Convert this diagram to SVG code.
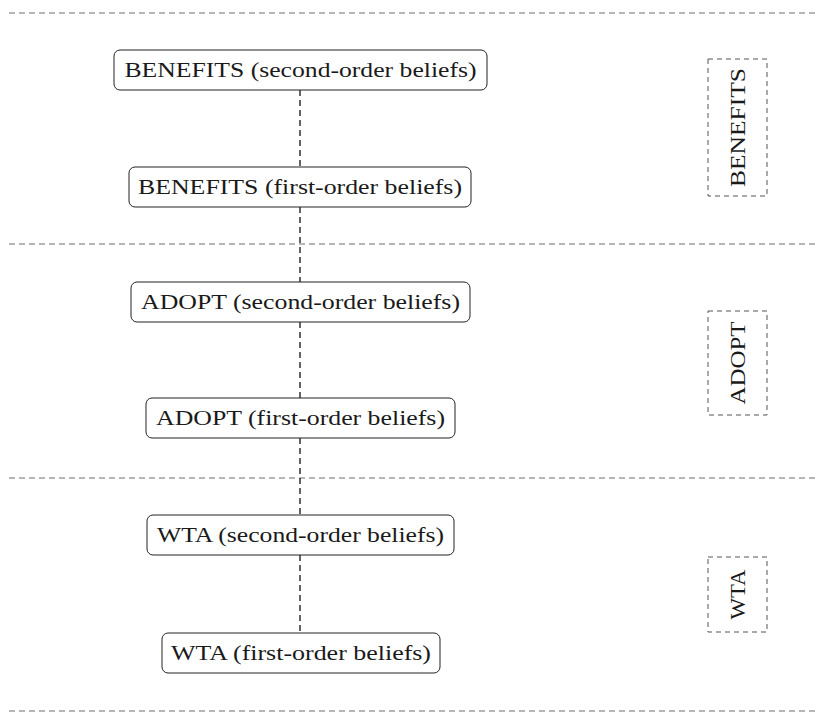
<svg xmlns="http://www.w3.org/2000/svg" width="817" height="713" viewBox="0 0 817 713">
<style>
.sep{stroke:#6e6e6e;stroke-width:1.2;stroke-dasharray:6,4;fill:none}
.node rect{fill:#fff;stroke:#222;stroke-width:1}
.lbl{font-family:"Liberation Serif","Times New Roman",serif;font-size:21.5px;fill:#1a1a1a;text-anchor:middle;dominant-baseline:central}
.side rect{fill:none;stroke:#555;stroke-width:1;stroke-dasharray:5,4}
.conn{stroke:#111;stroke-width:1.3;stroke-dasharray:6,4;fill:none}
</style>
<g id="separators">
<line class="sep" x1="9" y1="13" x2="816" y2="13"/>
<line class="sep" x1="9" y1="244" x2="816" y2="244"/>
<line class="sep" x1="9" y1="478" x2="816" y2="478"/>
<line class="sep" x1="9" y1="711" x2="816" y2="711"/>
</g>
<g id="connectors">
<line class="conn" x1="300" y1="90" x2="300" y2="167"/>
<line class="conn" x1="300" y1="207" x2="300" y2="282"/>
<line class="conn" x1="300" y1="322" x2="300" y2="398"/>
<line class="conn" x1="300" y1="438" x2="300" y2="515"/>
<line class="conn" x1="300" y1="555" x2="300" y2="633"/>
</g>
<g id="benefits2" class="node"><rect x="114" y="50" width="373" height="40" rx="6"/><text class="lbl" x="300.5" y="70" textLength="352" lengthAdjust="spacingAndGlyphs">BENEFITS (second-order beliefs)</text></g>
<g id="benefits1" class="node"><rect x="129" y="167" width="342" height="40" rx="6"/><text class="lbl" x="300" y="187" textLength="324" lengthAdjust="spacingAndGlyphs">BENEFITS (first-order beliefs)</text></g>
<g id="adopt2" class="node"><rect x="131" y="282" width="339" height="40" rx="6"/><text class="lbl" x="300.5" y="302" textLength="319" lengthAdjust="spacingAndGlyphs">ADOPT (second-order beliefs)</text></g>
<g id="adopt1" class="node"><rect x="146" y="398" width="309" height="40" rx="6"/><text class="lbl" x="300.5" y="418" textLength="289" lengthAdjust="spacingAndGlyphs">ADOPT (first-order beliefs)</text></g>
<g id="wta2" class="node"><rect x="147" y="515" width="307" height="40" rx="6"/><text class="lbl" x="300.5" y="535" textLength="287" lengthAdjust="spacingAndGlyphs">WTA (second-order beliefs)</text></g>
<g id="wta1" class="node"><rect x="162" y="633" width="278" height="40" rx="6"/><text class="lbl" x="301" y="653" textLength="260" lengthAdjust="spacingAndGlyphs">WTA (first-order beliefs)</text></g>
<g id="side-benefits" class="side"><rect x="708" y="59" width="59" height="137"/><text class="lbl" transform="translate(738,127.5) rotate(-90)" textLength="119" lengthAdjust="spacingAndGlyphs">BENEFITS</text></g>
<g id="side-adopt" class="side"><rect x="708" y="311" width="59" height="104"/><text class="lbl" transform="translate(738,363) rotate(-90)" textLength="83" lengthAdjust="spacingAndGlyphs">ADOPT</text></g>
<g id="side-wta" class="side"><rect x="708" y="557" width="59" height="75"/><text class="lbl" transform="translate(738,594.5) rotate(-90)" textLength="50" lengthAdjust="spacingAndGlyphs">WTA</text></g>
</svg>
